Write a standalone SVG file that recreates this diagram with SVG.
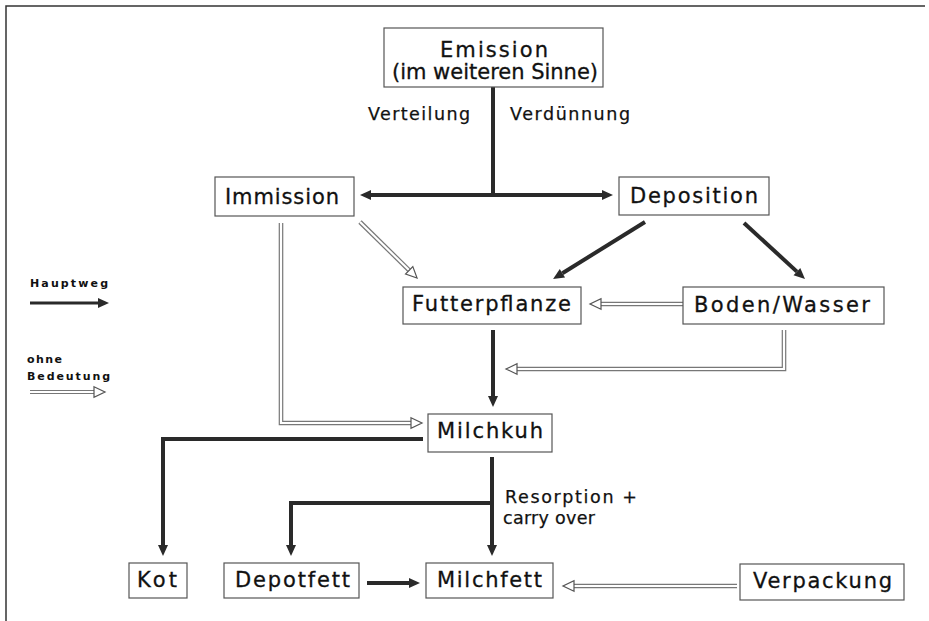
<svg xmlns="http://www.w3.org/2000/svg" width="929" height="621" viewBox="0 0 929 621">
<style>
.box{fill:#fff;stroke:#555;stroke-width:1.2}
.lbl{font-family:"DejaVu Sans","Liberation Sans",Arial,sans-serif;font-size:21px;fill:#111;stroke:#111;stroke-width:0.3}
.sm{font-family:"DejaVu Sans","Liberation Sans",Arial,sans-serif;font-size:17.5px;fill:#111;stroke:#111;stroke-width:0.25}
.leg{font-family:"DejaVu Sans","Liberation Sans",Arial,sans-serif;font-size:11px;font-weight:bold;fill:#111}
.main{fill:none;stroke:#2a2a2a;stroke-width:4}
.hout{fill:none;stroke:#777;stroke-width:4.6}
.hin{fill:none;stroke:#fff;stroke-width:2.2}
.frame{fill:none;stroke:#333;stroke-width:1.5}
</style>
<defs>
<marker id="dh" markerUnits="userSpaceOnUse" markerWidth="14" markerHeight="14" refX="0" refY="6" orient="auto-start-reverse" viewBox="0 0 14 12" overflow="visible">
<path d="M0,1 L11,6 L0,11 z" fill="#2a2a2a"/>
</marker>
<marker id="hh" markerUnits="userSpaceOnUse" markerWidth="14" markerHeight="14" refX="0" refY="6" orient="auto" viewBox="0 0 14 12" overflow="visible">
<path d="M0,0.8 L11,6 L0,11.2 z" fill="#fff" stroke="#555" stroke-width="1.2"/>
</marker>
</defs>
<path class="frame" d="M6,621 V6 H925"/>
<g id="connectors">
<path class="main" d="M493,87 V195"/>
<path class="main" d="M371,195 H602" marker-start="url(#dh)" marker-end="url(#dh)"/>
<path class="main" d="M645,222 L562.4,273.2" marker-end="url(#dh)"/>
<path class="main" d="M744,223 L796.9,271.6" marker-end="url(#dh)"/>
<path class="main" d="M493,330 V396" marker-end="url(#dh)"/>
<path class="main" d="M423,439 H163 V545" marker-end="url(#dh)"/>
<path class="main" d="M492,457 V545" marker-end="url(#dh)"/>
<path class="main" d="M492,503 H291 V545" marker-end="url(#dh)"/>
<path class="main" d="M367,583 H409" marker-end="url(#dh)"/>
<path class="hout" d="M360,222 L409.2,270.3"/>
<path class="hin" d="M360,222 L409.2,270.3" marker-end="url(#hh)"/>
<path class="hout" d="M683,304 H601"/>
<path class="hin" d="M683,304 H601" marker-end="url(#hh)"/>
<path class="hout" d="M784,330 V369 H517"/>
<path class="hin" d="M784,330 V369 H517" marker-end="url(#hh)"/>
<path class="hout" d="M281,223 V423 H411"/>
<path class="hin" d="M281,223 V423 H411" marker-end="url(#hh)"/>
<path class="hout" d="M737,586 H574"/>
<path class="hin" d="M737,586 H574" marker-end="url(#hh)"/>
</g>
<g id="legend">
<text class="leg" x="30" y="287" textLength="78" lengthAdjust="spacing">Hauptweg</text>
<path class="main" style="stroke-width:3" d="M30,303 H98" marker-end="url(#dh)"/>
<text class="leg" x="27" y="363" textLength="35" lengthAdjust="spacing">ohne</text>
<text class="leg" x="27" y="380" textLength="83" lengthAdjust="spacing">Bedeutung</text>
<path class="hout" style="stroke-width:4" d="M30,392 H94"/>
<path class="hin" style="stroke-width:2" d="M30,392 H94" marker-end="url(#hh)"/>
</g>
<g id="emission">
<rect class="box" x="384" y="28" width="219" height="59"/>
<text class="lbl" x="440" y="57" textLength="108" lengthAdjust="spacing">Emission</text>
<text class="lbl" x="392" y="79" textLength="206" lengthAdjust="spacing">(im weiteren Sinne)</text>
</g>
<g id="labels">
<text class="sm" x="368" y="120" textLength="102" lengthAdjust="spacing">Verteilung</text>
<text class="sm" x="510" y="120" textLength="120" lengthAdjust="spacing">Verdünnung</text>
<text class="sm" x="505" y="503" textLength="132" lengthAdjust="spacing">Resorption +</text>
<text class="sm" x="503" y="524" textLength="92" lengthAdjust="spacing">carry over</text>
</g>
<g id="immission">
<rect class="box" x="215" y="177" width="139" height="39"/>
<text class="lbl" x="225" y="204" textLength="114" lengthAdjust="spacing">Immission</text>
</g>
<g id="deposition">
<rect class="box" x="619" y="177" width="150" height="38"/>
<text class="lbl" x="630" y="203" textLength="128" lengthAdjust="spacing">Deposition</text>
</g>
<g id="futterpflanze">
<rect class="box" x="403" y="287" width="178" height="37"/>
<text class="lbl" x="412" y="311" textLength="159" lengthAdjust="spacing">Futterpflanze</text>
</g>
<g id="boden">
<rect class="box" x="683" y="287" width="201" height="37"/>
<text class="lbl" x="694" y="312" textLength="176" lengthAdjust="spacing">Boden/Wasser</text>
</g>
<g id="milchkuh">
<rect class="box" x="428" y="414" width="124" height="38"/>
<text class="lbl" x="437" y="438" textLength="106" lengthAdjust="spacing">Milchkuh</text>
</g>
<g id="kot">
<rect class="box" x="129" y="563" width="58" height="35"/>
<text class="lbl" x="137" y="587" textLength="40" lengthAdjust="spacing">Kot</text>
</g>
<g id="depotfett">
<rect class="box" x="224" y="563" width="135" height="35"/>
<text class="lbl" x="235" y="587" textLength="115" lengthAdjust="spacing">Depotfett</text>
</g>
<g id="milchfett">
<rect class="box" x="426" y="563" width="127" height="35"/>
<text class="lbl" x="437" y="587" textLength="105" lengthAdjust="spacing">Milchfett</text>
</g>
<g id="verpackung">
<rect class="box" x="740" y="564" width="164" height="36"/>
<text class="lbl" x="753" y="588" textLength="139" lengthAdjust="spacing">Verpackung</text>
</g>
</svg>
